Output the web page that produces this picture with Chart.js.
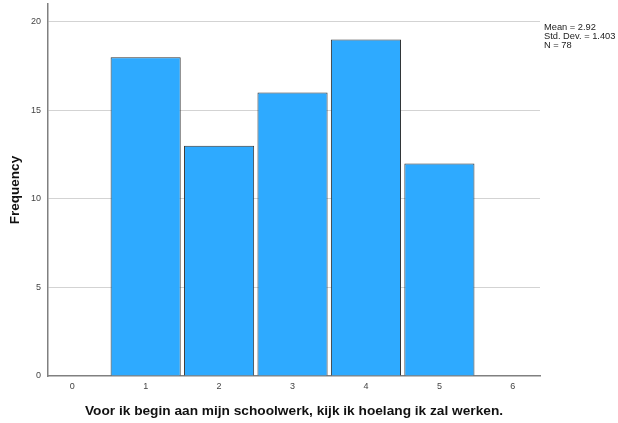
<!DOCTYPE html>
<html>
<head>
<meta charset="utf-8">
<script src="https://cdn.jsdelivr.net/npm/chart.js@4"></script>
<style>
  html, body { margin: 0; padding: 0; background: #fff; }
  #wrap { width: 618px; height: 423px; }
</style>
</head>
<body>
<div id="wrap"><canvas id="myChart"></canvas></div>
<script>
// data
const bins = [1, 2, 3, 4, 5];
const freq = [18, 13, 16, 19, 12];
const xTicks = [0, 1, 2, 3, 4, 5, 6];
const yTicks = [0, 5, 10, 15, 20];
const statLines = ['Mean = 2.92', 'Std. Dev. = 1.403', 'N = 78'];
const xTitle = 'Voor ik begin aan mijn schoolwerk, kijk ik hoelang ik zal werken.';

const points = bins.map((b, i) => ({x: b, y: freq[i]}));

// extra text: stats box + x title
const textPlugin = {
  id: 'texts',
  afterDraw(chart) {
    const c = chart.ctx;
    const a = chart.chartArea;
    c.save();
    c.fillStyle = '#222';
    c.font = '9.3px "Liberation Sans", Arial, sans-serif';
    c.textBaseline = 'alphabetic';
    c.textAlign = 'left';
    statLines.forEach((t, i) => c.fillText(t, 544, 30 + i * 9));
    c.fillStyle = '#111';
    c.font = 'bold 13.7px "Liberation Sans", Arial, sans-serif';
    c.textAlign = 'center';
    c.fillText(xTitle, (a.left + a.right) / 2, 415);
    c.restore();
  }
};

const config = {
  type: 'bar',
  data: {
    datasets: [{
      data: points,
      backgroundColor: '#2eaaff',
      borderColor: '#333',
      borderWidth: 1,
      barPercentage: 0.955,
      categoryPercentage: 1
    }]
  },
  options: {
    responsive: false,
    animation: false,
    layout: { padding: { top: 4, right: 78, left: 0, bottom: 0 } },
    plugins: { legend: { display: false }, tooltip: { enabled: false } },
    scales: {
      x: {
        type: 'linear',
        offset: false,
        min: -0.33,
        max: 6.37,
        afterBuildTicks: s => { s.ticks = xTicks.map(v => ({value: v})); },
        afterFit: s => { s.height = 47; s.paddingLeft = 0; s.paddingRight = 0; },
        grid: { display: false, drawTicks: false, offset: false },
        border: { color: '#808080', width: 1.5 },
        ticks: { color: '#444', font: { size: 9, family: '"Liberation Sans", Arial' }, padding: 5, maxRotation: 0 }
      },
      y: {
        min: 0,
        max: 21,
        afterBuildTicks: s => { s.ticks = yTicks.map(v => ({value: v})); },
        afterFit: s => { s.width = 48; s.paddingTop = 0; s.paddingBottom = 0; },
        grid: { color: c => c.tick.value === 0 ? 'rgba(0,0,0,0)' : '#d3d3d3', drawTicks: false, lineWidth: 1 },
        border: { color: '#808080', width: 1.5 },
        ticks: { color: '#444', font: { size: 9, family: '"Liberation Sans", Arial' }, padding: 7 },
        title: { display: true, text: 'Frequency', color: '#111', font: { size: 13.5, weight: 'bold', family: '"Liberation Sans", Arial' }, padding: { top: 7, bottom: 0 } }
      }
    }
  },
  plugins: [textPlugin]
};

const ctx = document.getElementById('myChart');
ctx.width = 618;
ctx.height = 423;
const myChart = new Chart(ctx, config);
</script>
</body>
</html>
